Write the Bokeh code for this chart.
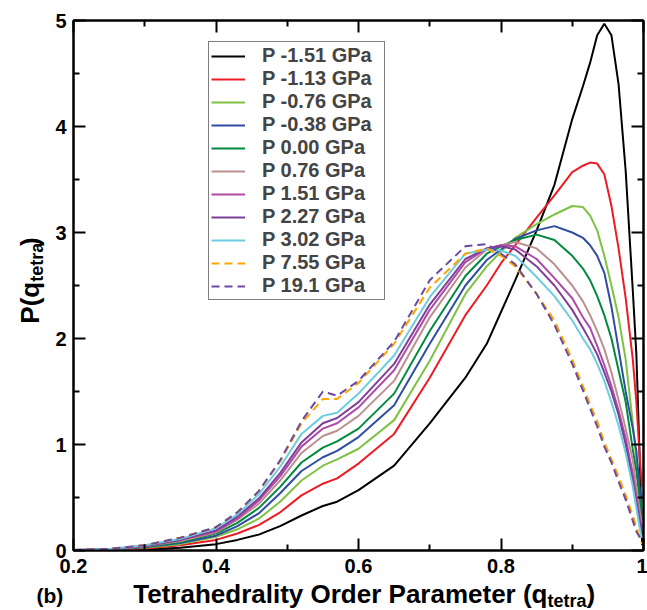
from math import pi
from bokeh.plotting import figure
from bokeh.layouts import row, column
from bokeh.models import Range1d, LinearAxis, FixedTicker, Legend, LegendItem, Label
from bokeh.embed import file_html
from bokeh.resources import INLINE

# ---------------- data ----------------
q_tetra = [0.20, 0.25, 0.30, 0.35, 0.40, 0.43, 0.46, 0.49, 0.52, 0.55, 0.57, 0.60,
           0.65, 0.70, 0.75, 0.78, 0.80, 0.82, 0.85, 0.875, 0.90, 0.915, 0.925, 0.935,
           0.945, 0.955, 0.965, 0.975, 0.985, 0.99, 0.995, 0.998]

p_m151 = [0.003, 0.005, 0.01, 0.025, 0.06, 0.10, 0.15, 0.23, 0.33, 0.42, 0.46, 0.57,
          0.80, 1.20, 1.63, 1.95, 2.25, 2.55, 3.02, 3.45, 4.07, 4.38, 4.60, 4.86,
          4.97, 4.86, 4.40, 3.58, 2.45, 1.85, 0.80, 0.05]
p_m113 = [0.003, 0.008, 0.02, 0.05, 0.10, 0.16, 0.24, 0.36, 0.52, 0.63, 0.68, 0.82,
          1.10, 1.63, 2.22, 2.50, 2.71, 2.88, 3.14, 3.35, 3.57, 3.63, 3.66, 3.65,
          3.55, 3.25, 2.85, 2.38, 1.80, 1.40, 0.85, 0.60]
p_m076 = [0.003, 0.01, 0.025, 0.06, 0.13, 0.20, 0.30, 0.46, 0.66, 0.80, 0.86, 0.96,
          1.23, 1.79, 2.42, 2.68, 2.82, 2.95, 3.08, 3.17, 3.25, 3.24, 3.16, 3.02,
          2.78, 2.50, 2.20, 1.80, 1.20, 0.85, 0.50, 0.40]
p_m038 = [0.003, 0.01, 0.03, 0.07, 0.14, 0.23, 0.35, 0.54, 0.75, 0.88, 0.94, 1.07,
          1.37, 1.95, 2.50, 2.74, 2.84, 2.94, 3.02, 3.06, 3.00, 2.95, 2.88, 2.78,
          2.62, 2.30, 1.90, 1.50, 1.15, 0.94, 0.55, 0.35]
p_000 = [0.003, 0.01, 0.035, 0.08, 0.16, 0.26, 0.40, 0.60, 0.83, 0.97, 1.03, 1.15,
         1.48, 2.07, 2.59, 2.80, 2.87, 2.93, 2.98, 2.93, 2.78, 2.66, 2.55, 2.40,
         2.22, 2.00, 1.70, 1.40, 0.95, 0.75, 0.45, 0.30]
p_076 = [0.003, 0.012, 0.04, 0.09, 0.17, 0.29, 0.44, 0.66, 0.92, 1.08, 1.13, 1.27,
         1.60, 2.20, 2.67, 2.84, 2.88, 2.91, 2.85, 2.70, 2.50, 2.35, 2.22, 2.07,
         1.90, 1.68, 1.42, 1.15, 0.85, 0.60, 0.35, 0.25]
p_151 = [0.004, 0.012, 0.04, 0.10, 0.18, 0.30, 0.47, 0.70, 0.98, 1.15, 1.20, 1.35,
         1.70, 2.27, 2.72, 2.85, 2.88, 2.87, 2.75, 2.57, 2.38, 2.20, 2.10, 1.93,
         1.75, 1.55, 1.32, 1.06, 0.72, 0.50, 0.30, 0.20]
p_227 = [0.004, 0.013, 0.045, 0.10, 0.19, 0.32, 0.49, 0.73, 1.02, 1.20, 1.25, 1.40,
         1.76, 2.32, 2.75, 2.85, 2.87, 2.84, 2.68, 2.50, 2.27, 2.10, 1.98, 1.85,
         1.68, 1.50, 1.28, 1.00, 0.65, 0.45, 0.26, 0.18]
p_302 = [0.004, 0.014, 0.05, 0.11, 0.21, 0.34, 0.53, 0.79, 1.10, 1.27, 1.30, 1.48,
         1.84, 2.39, 2.80, 2.84, 2.83, 2.78, 2.58, 2.40, 2.17, 2.00, 1.90, 1.76,
         1.60, 1.40, 1.18, 0.92, 0.60, 0.40, 0.20, 0.12]
p_755 = [0.005, 0.015, 0.05, 0.12, 0.22, 0.36, 0.56, 0.84, 1.20, 1.43, 1.43, 1.58,
         1.95, 2.48, 2.80, 2.85, 2.78, 2.68, 2.42, 2.17, 1.80, 1.55, 1.38, 1.22,
         1.02, 0.86, 0.70, 0.52, 0.33, 0.22, 0.12, 0.06]
p_191 = [0.005, 0.015, 0.05, 0.12, 0.22, 0.36, 0.56, 0.85, 1.22, 1.50, 1.46, 1.60,
         1.97, 2.55, 2.87, 2.89, 2.80, 2.70, 2.42, 2.13, 1.76, 1.51, 1.34, 1.17,
         0.98, 0.83, 0.65, 0.48, 0.28, 0.18, 0.12, 0.08]

series_values = [p_m151, p_m113, p_m076, p_m038, p_000, p_076, p_151, p_227,
                 p_302, p_755, p_191]
series_labels = ["P -1.51 GPa", "P -1.13 GPa", "P -0.76 GPa", "P -0.38 GPa",
                 "P 0.00 GPa", "P 0.76 GPa", "P 1.51 GPa", "P 2.27 GPa",
                 "P 3.02 GPa", "P 7.55 GPa", "P 19.1 GPa"]

x_ticks = [0.2, 0.4, 0.6, 0.8, 1.0]
x_minor_ticks = [0.3, 0.5, 0.7, 0.9]
x_tick_labels = ["0.2", "0.4", "0.6", "0.8", "1"]
y_ticks = [0, 1, 2, 3, 4, 5]
y_minor_ticks = [0.5, 1.5, 2.5, 3.5, 4.5]
y_tick_labels = ["0", "1", "2", "3", "4", "5"]

x_title = "Tetrahedrality Order Parameter (q"
y_title = "P(q"
sub_text = "tetra"
close_text = ")"
panel_text = "(b)"

# ---------------- styles ----------------
colors = ["#000000", "#ed1c24", "#7dc242", "#2e4ea2", "#008a3e", "#bc8f8f",
          "#b04aa8", "#7f3f98", "#6dcde0", "#ffa500", "#6a4ba0"]
dashes = ["solid"] * 9 + ["8 5", "8 5"]
FONT = "Liberation Sans"

LEFT_W = 52
MAIN_W = 647 - LEFT_W
MAIN_H = 578
BOT_H = 610 - MAIN_H

p = figure(width=MAIN_W, height=MAIN_H, x_range=Range1d(0.2, 1.0), y_range=Range1d(0, 5),
           output_backend="svg", toolbar_location=None,
           min_border_left=73 - LEFT_W, min_border_right=4, min_border_top=20,
           min_border_bottom=MAIN_H - 550)
p.grid.visible = False
p.outline_line_color = "black"
p.outline_line_width = 2
p.background_fill_color = "white"
p.border_fill_color = "white"

items = []
for vals, lab, col, dsh in zip(series_values, series_labels, colors, dashes):
    r = p.line(q_tetra, vals, line_color=col, line_width=2, line_dash=dsh)
    items.append(LegendItem(label=lab, renderers=[r]))


def style_axis(ax, show_labels):
    ax.axis_line_width = 2
    ax.axis_line_color = "black"
    ax.major_tick_in = 12
    ax.major_tick_out = 0
    ax.minor_tick_in = 6
    ax.minor_tick_out = 0
    ax.major_tick_line_width = 2
    ax.minor_tick_line_width = 2
    ax.major_tick_line_color = "black"
    ax.minor_tick_line_color = "black"
    if show_labels:
        ax.major_label_text_font = FONT
        ax.major_label_text_font_style = "bold"
        ax.major_label_text_font_size = "20px"
        ax.major_label_text_color = "black"
    else:
        ax.major_label_text_color = None
        ax.major_label_text_font_size = "2px"
        ax.major_label_standoff = 0


p.xaxis.ticker = FixedTicker(ticks=x_ticks, minor_ticks=x_minor_ticks)
p.yaxis.ticker = FixedTicker(ticks=y_ticks, minor_ticks=y_minor_ticks)
p.xaxis.major_label_overrides = {t: s for t, s in zip(x_ticks, x_tick_labels)}
p.yaxis.major_label_overrides = {t: s for t, s in zip(y_ticks, y_tick_labels)}
style_axis(p.xaxis[0], True)
style_axis(p.yaxis[0], True)
p.xaxis.major_label_standoff = 8
p.yaxis.major_label_standoff = 7

top_ax = LinearAxis(ticker=FixedTicker(ticks=x_ticks, minor_ticks=x_minor_ticks))
style_axis(top_ax, False)
p.add_layout(top_ax, "above")
right_ax = LinearAxis(ticker=FixedTicker(ticks=y_ticks, minor_ticks=y_minor_ticks))
style_axis(right_ax, False)
p.add_layout(right_ax, "right")

legend = Legend(items=items, location=(135, 250))
legend.border_line_color = "black"
legend.border_line_width = 1.5
legend.background_fill_color = "white"
legend.background_fill_alpha = 1
legend.label_text_font = FONT
legend.label_text_font_style = "bold"
legend.label_text_font_size = "20px"
legend.glyph_width = 34
legend.glyph_height = 20
legend.label_height = 20
legend.label_width = 120
legend.label_standoff = 17
legend.spacing = 0
legend.padding = 2
legend.margin = 0
p.add_layout(legend)


def strip(w, h):
    s = figure(width=w, height=h, x_range=Range1d(0, w), y_range=Range1d(0, h),
               output_backend="svg", toolbar_location=None,
               x_axis_location=None, y_axis_location=None,
               min_border=0, min_border_left=0, min_border_right=0,
               min_border_top=0, min_border_bottom=0)
    s.grid.visible = False
    s.outline_line_color = None
    s.background_fill_color = "white"
    s.border_fill_color = "white"
    return s


def add_text(fig, txt, x, y, size, align, angle=0.0):
    fig.add_layout(Label(x=x, y=y, text=txt, angle=angle,
                         text_font=FONT, text_font_style="bold",
                         text_font_size=f"{size}px", text_align=align,
                         text_baseline="middle", text_color="black"))


MAIN_SIZE = 26
SUB_SIZE = 18
SUB_W = 2.167 * SUB_SIZE  # approx. advance width of the subscript
SUB_DROP = 7.5            # subscript lowering

# y-axis title (rotated), in the left strip
left = strip(LEFT_W, MAIN_H)
yj = MAIN_H - 285.0   # junction between "P(q" and subscript
yc = 29.0             # text centre x
add_text(left, y_title, yc, yj, MAIN_SIZE, "right", pi / 2)
add_text(left, sub_text, yc + SUB_DROP, yj, SUB_SIZE, "left", pi / 2)
add_text(left, close_text, yc, yj + SUB_W, MAIN_SIZE, "left", pi / 2)

# x-axis title and panel tag, in the bottom strip
bottom = strip(647, BOT_H)
xj = 131.0 + 16.0 * MAIN_SIZE   # junction between "(q" and subscript
xc = 17.0                       # text centre y from strip bottom
add_text(bottom, x_title, xj, xc, MAIN_SIZE, "right")
add_text(bottom, sub_text, xj, xc - SUB_DROP, SUB_SIZE, "left")
add_text(bottom, close_text, xj + SUB_W, xc, MAIN_SIZE, "left")
add_text(bottom, panel_text, 36, 15, 21, "left")

layout = column(row(left, p, spacing=0), bottom, spacing=0)

open("out.html", "w").write(file_html(layout, INLINE))
